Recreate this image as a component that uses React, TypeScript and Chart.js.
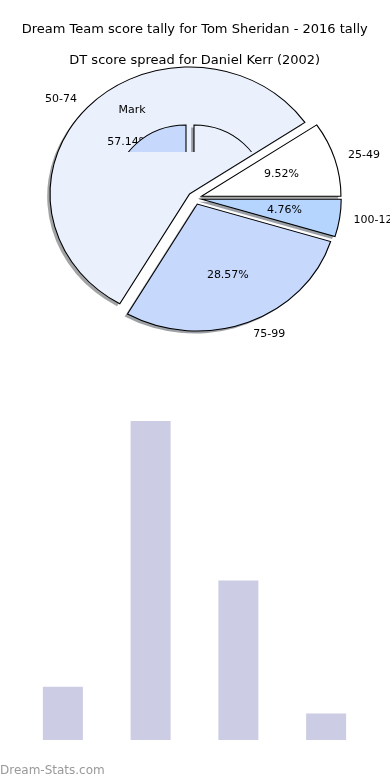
import React, { useEffect, useRef } from "react";
import { Chart, registerables } from "chart.js";

Chart.register(...registerables);

const TITLE = "Dream Team score tally for Tom Sheridan - 2016 tally";
const SUBTITLE = "DT score spread for Daniel Kerr (2002)";
const SCORE_BANDS = ["25-49", "50-74", "75-99", "100-124"];
const BAND_COUNTS = [2, 12, 6, 1];
const BAND_COLORS = ["#ffffff", "#eaf1fd", "#c6d9fd", "#b5d5ff"];
const BAND_EXPLODE = [0.05, 0.05, 0.05, 0.05];
const MARK_LABEL = "Mark";
const MARK_SHARES = [1, 1];
const MARK_COLORS = ["#eaf1fd", "#c6d9fd"];
const BAR_COLOR = "#ccccE4";
const WATERMARK = "Dream-Stats.com";

const FONT = '"DejaVu Sans", sans-serif';
const X_STRETCH = 1.1;
const SHADOW_DX = -2.8;
const SHADOW_DY = 2.5;

function shadowOf(color: string): string {
  const h = color.replace("#", "");
  const r = parseInt(h.slice(0, 2), 16);
  const g = parseInt(h.slice(2, 4), 16);
  const b = parseInt(h.slice(4, 6), 16);
  return `rgba(${Math.round(r * 0.3)},${Math.round(g * 0.3)},${Math.round(b * 0.3)},0.5)`;
}

function paintPie(chart: any, explodeOf: (j: number, R: number) => number) {
  const meta = chart.getDatasetMeta(0);
  const ctx = chart.ctx as CanvasRenderingContext2D;
  const arcs = meta.data as any[];
  if (!arcs.length) return;
  const cx = arcs[0].x;
  const cy = arcs[0].y;
  ctx.save();
  ctx.translate(cx, cy);
  ctx.scale(X_STRETCH, 1);
  ctx.translate(-cx, -cy);
  arcs.forEach((a, j) => {
    const mid = (a.startAngle + a.endAngle) / 2;
    const d = explodeOf(j, a.outerRadius);
    const ox = a.x + Math.cos(mid) * d + SHADOW_DX / X_STRETCH;
    const oy = a.y + Math.sin(mid) * d + SHADOW_DY;
    const sc = shadowOf(a.options.backgroundColor);
    ctx.beginPath();
    ctx.moveTo(ox, oy);
    ctx.arc(ox, oy, a.outerRadius, a.startAngle, a.endAngle);
    ctx.closePath();
    ctx.fillStyle = sc;
    ctx.fill();
  });
  arcs.forEach((a, j) => {
    const mid = (a.startAngle + a.endAngle) / 2;
    const d = explodeOf(j, a.outerRadius);
    ctx.save();
    ctx.translate(Math.cos(mid) * d, Math.sin(mid) * d);
    a.draw(ctx);
    ctx.restore();
  });
  ctx.restore();
}

// Chart.js runs clockwise; the reference runs counter-clockwise from 3 o'clock.
const ORDER = SCORE_BANDS.map((_, i) => SCORE_BANDS.length - 1 - i);

export default function App() {
  const pieRef = useRef<HTMLCanvasElement | null>(null);
  const miniRef = useRef<HTMLCanvasElement | null>(null);
  const barRef = useRef<HTMLCanvasElement | null>(null);

  useEffect(() => {
    const total = BAND_COUNTS.reduce((s, v) => s + v, 0);

    const piePlugin = {
      id: "explodedPie",
      beforeDatasetsDraw(chart: any) {
        paintPie(chart, (j, R) => BAND_EXPLODE[ORDER[j]] * R);
        return false;
      },
      afterDraw(chart: any) {
        const meta = chart.getDatasetMeta(0);
        const arcs = meta.data as any[];
        const ctx = chart.ctx as CanvasRenderingContext2D;
        ctx.save();
        ctx.font = `11px ${FONT}`;
        ctx.fillStyle = "#000";
        ctx.textBaseline = "middle";
        arcs.forEach((a, j) => {
          const i = ORDER[j];
          const R = a.outerRadius;
          const mid = (a.startAngle + a.endAngle) / 2;
          const d = BAND_EXPLODE[i] * R;
          const c = Math.cos(mid);
          const s = Math.sin(mid);
          const lx = a.x + c * (d + 1.1 * R) * X_STRETCH;
          const ly = a.y + s * (d + 1.1 * R);
          ctx.textAlign = c > 0 ? "left" : "right";
          ctx.fillText(SCORE_BANDS[i], lx, ly);
          const px = a.x + c * (d + 0.6 * R) * X_STRETCH;
          const py = a.y + s * (d + 0.6 * R);
          ctx.textAlign = "center";
          ctx.fillText(((BAND_COUNTS[i] / total) * 100).toFixed(2) + "%", px, py);
        });
        ctx.restore();
      },
    };

    const pie = new Chart(pieRef.current as HTMLCanvasElement, {
      type: "pie",
      data: {
        labels: ORDER.map((i) => SCORE_BANDS[i]),
        datasets: [
          {
            data: ORDER.map((i) => BAND_COUNTS[i]),
            backgroundColor: ORDER.map((i) => BAND_COLORS[i]),
            borderColor: "#000",
            borderWidth: 1,
            borderJoinStyle: "miter",
            hoverOffset: 0,
          } as any,
        ],
      },
      options: {
        responsive: false,
        animation: false,
        devicePixelRatio: 1,
        events: [],
        rotation: 90,
        radius: 126.9,
        layout: { padding: { left: 0, right: 0.6, top: 0, bottom: 72.4 } },
        plugins: {
          legend: { display: false },
          tooltip: { enabled: false },
          title: {
            display: true,
            text: TITLE,
            color: "#000",
            font: { family: FONT, size: 13, weight: "normal", lineHeight: 1.2 },
            padding: { top: 22.2, bottom: 0 },
          },
          subtitle: {
            display: true,
            text: SUBTITLE,
            color: "#000",
            font: { family: FONT, size: 13, weight: "normal", lineHeight: 1.2 },
            padding: { top: 15.4, bottom: 0 },
          },
        },
      } as any,
      plugins: [piePlugin],
    });

    const miniPlugin = {
      id: "miniPie",
      beforeDatasetsDraw(chart: any) {
        paintPie(chart, () => 4 / X_STRETCH);
        return false;
      },
      afterDraw(chart: any) {
        const ctx = chart.ctx as CanvasRenderingContext2D;
        ctx.save();
        ctx.font = `11px ${FONT}`;
        ctx.fillStyle = "#000";
        ctx.textAlign = "center";
        ctx.textBaseline = "middle";
        ctx.fillText(MARK_LABEL, 132, 110);
        ctx.restore();
      },
    };

    const mini = new Chart(miniRef.current as HTMLCanvasElement, {
      type: "pie",
      data: {
        labels: ["a", "b"],
        datasets: [
          {
            data: MARK_SHARES,
            backgroundColor: MARK_COLORS,
            borderColor: "#000",
            borderWidth: 1,
            borderJoinStyle: "miter",
            hoverOffset: 0,
          } as any,
        ],
      },
      options: {
        responsive: false,
        animation: false,
        devicePixelRatio: 1,
        events: [],
        rotation: 0,
        radius: 64,
        layout: { padding: { left: 0, right: 10, top: 0, bottom: 22 } },
        plugins: { legend: { display: false }, tooltip: { enabled: false } },
      } as any,
      plugins: [miniPlugin],
    });

    const bar = new Chart(barRef.current as HTMLCanvasElement, {
      type: "bar",
      data: {
        labels: SCORE_BANDS,
        datasets: [
          {
            data: BAND_COUNTS,
            backgroundColor: BAR_COLOR,
            borderWidth: 0,
            barPercentage: 0.456,
            categoryPercentage: 1,
          },
        ],
      },
      options: {
        responsive: false,
        animation: false,
        devicePixelRatio: 1,
        events: [],
        layout: { padding: { left: 19, right: 20, top: 21, bottom: 40 } },
        scales: {
          x: { display: false },
          y: { display: false, min: 0, max: Math.max(...BAND_COUNTS) },
        },
        plugins: { legend: { display: false }, tooltip: { enabled: false } },
      } as any,
    });

    return () => {
      pie.destroy();
      mini.destroy();
      bar.destroy();
    };
  }, []);

  return (
    <div
      style={{
        position: "absolute",
        left: 0,
        top: 0,
        width: 390,
        height: 780,
        overflow: "hidden",
        background: "#fff",
      }}
    >
      <canvas
        ref={pieRef}
        width={390}
        height={400}
        style={{ position: "absolute", left: 0, top: 0, width: 390, height: 400 }}
      />
      <div
        style={{
          position: "absolute",
          left: 0,
          top: 0,
          width: 390,
          height: 152,
          overflow: "hidden",
        }}
      >
        <canvas
          ref={miniRef}
          width={390}
          height={400}
          style={{ position: "absolute", left: 0, top: 0, width: 390, height: 400 }}
        />
      </div>
      <canvas
        ref={barRef}
        width={390}
        height={380}
        style={{ position: "absolute", left: 0, top: 400, width: 390, height: 380 }}
      />
      <div
        style={{
          position: "absolute",
          left: 0,
          top: 763,
          fontFamily: FONT,
          fontSize: 12,
          lineHeight: "14px",
          color: "#999999",
          whiteSpace: "nowrap",
        }}
      >
        {WATERMARK}
      </div>
    </div>
  );
}
